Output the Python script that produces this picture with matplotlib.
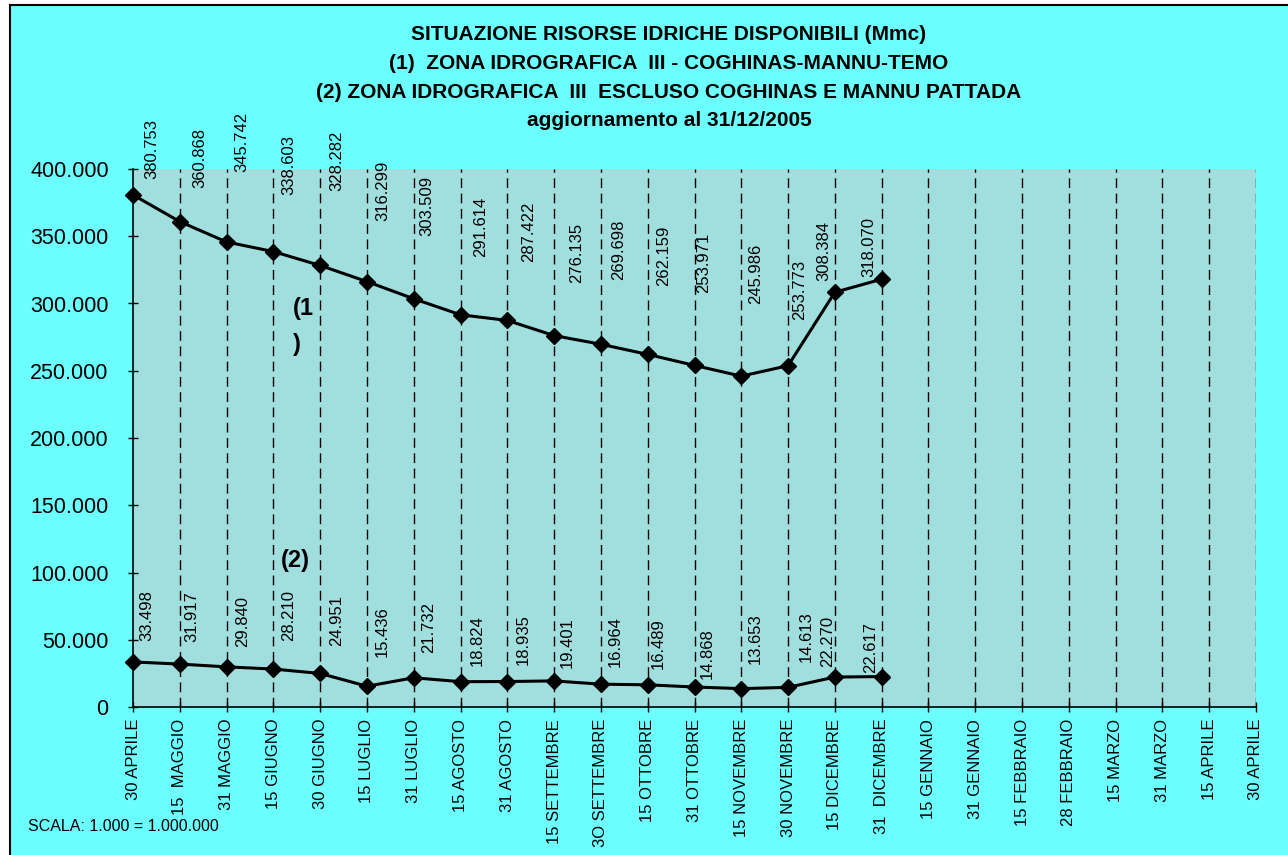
import matplotlib.pyplot as plt
from matplotlib.patches import Rectangle

plt.rcParams['font.family'] = ['Liberation Sans', 'DejaVu Sans']

# date di rilevamento (asse x)
date_labels = ['30 APRILE', '15  MAGGIO', '31 MAGGIO', '15 GIUGNO', '30 GIUGNO',
               '15 LUGLIO', '31 LUGLIO', '15 AGOSTO', '31 AGOSTO', '15 SETTEMBRE',
               '3O SETTEMBRE', '15 OTTOBRE', '31 OTTOBRE', '15 NOVEMBRE',
               '30 NOVEMBRE', '15 DICEMBRE', '31  DICEMBRE', '15 GENNAIO',
               '31 GENNAIO', '15 FEBBRAIO', '28 FEBBRAIO', '15 MARZO', '31 MARZO',
               '15 APRILE', '30 APRILE']

# (1) zona idrografica III - Coghinas-Mannu-Temo
zona1 = [380.753, 360.868, 345.742, 338.603, 328.282, 316.299, 303.509, 291.614,
         287.422, 276.135, 269.698, 262.159, 253.971, 245.986, 253.773, 308.384,
         318.070]
# (2) zona idrografica III escluso Coghinas e Mannu Pattada
zona2 = [33.498, 31.917, 29.840, 28.210, 24.951, 15.436, 21.732, 18.824, 18.935,
         19.401, 16.964, 16.489, 14.868, 13.653, 14.613, 22.270, 22.617]

y_ticks = [0, 50, 100, 150, 200, 250, 300, 350, 400]
y_ticklabels = ['0', '50.000', '100.000', '150.000', '200.000', '250.000',
                '300.000', '350.000', '400.000']

# spostamento etichette (pixel) come nel foglio originale
off1 = [(19, 16), (20, 34), (15, 70), (15, 57), (17, 74), (16, 61), (13, 63),
        (20, 58), (21, 58), (23, 53), (18, 64), (16, 68), (9, 72), (14, 72),
        (12, 46), (-11, 11), (-13, 2)]
off2 = [(14, 21), (12, 22), (16, 20), (15, 28), (16, 27), (15, 29), (15, 25),
        (17, 16), (16, 17), (13, 13), (14, 17), (11, 16), (13, 8), (14, 25),
        (18, 25), (-7, 10), (-11, 4)]

W, H = 1288, 855
fig = plt.figure(figsize=(W / 100, H / 100), dpi=100, facecolor='white')

# sfondo del grafico
fig.patches.append(Rectangle((10 / W, -0.02), 1.1, 1 - 5 / H + 0.02,
                             transform=fig.transFigure, facecolor='#6BFFFF',
                             edgecolor='black', linewidth=1.5, zorder=-5))

ax = fig.add_axes([133 / W, 1 - 707 / H, (1256 - 133) / W, (707 - 169) / H])
ax.set_facecolor('#A1DFDF')

n = len(date_labels)
xs = list(range(n))
ax.set_xlim(0, n - 1)
ax.set_ylim(0, 400)

for x in xs[1:]:
    ax.axvline(x, color='black', lw=1, linestyle=(0, (7, 4)), zorder=1)

for serie, off in ((zona1, off1), (zona2, off2)):
    px = xs[:len(serie)]
    ax.plot(px, serie, color='black', lw=2.2, marker='D', markersize=8,
            zorder=3, clip_on=False)
    for x, v, (dx, dy) in zip(px, serie, off):
        ax.annotate(f'{v:.3f}', (x, v), xytext=(dx, dy), textcoords='offset pixels',
                    rotation=90, ha='center', va='bottom', fontsize=12,
                    zorder=4, annotation_clip=False)

ax.text(3.42, 283, '(1\n)', fontsize=17, fontweight='bold', ha='left',
        va='center', linespacing=1.75)
ax.text(3.15, 109, '(2)', fontsize=17, fontweight='bold', ha='left', va='center')

ax.set_xticks(xs)
ax.set_xticklabels(date_labels, rotation=90, fontsize=12, va='top')
ax.set_yticks(y_ticks)
ax.set_yticklabels(y_ticklabels, fontsize=15.5)
ax.tick_params(axis='both', direction='inout', length=7, width=1, color='black')
ax.tick_params(axis='x', pad=5)
ax.tick_params(axis='y', pad=14)
for s in ('top', 'right'):
    ax.spines[s].set_visible(False)
for s in ('left', 'bottom'):
    ax.spines[s].set_linewidth(1.2)

titoli = ['SITUAZIONE RISORSE IDRICHE DISPONIBILI (Mmc)',
          '(1)  ZONA IDROGRAFICA  III - COGHINAS-MANNU-TEMO',
          '(2) ZONA IDROGRAFICA  III  ESCLUSO COGHINAS E MANNU PATTADA',
          'aggiornamento al 31/12/2005']
for i, t in enumerate(titoli):
    fig.text(669 / W, 1 - (35 + i * 28.5) / H, t, ha='center', va='center',
             fontsize=15, fontweight='bold')

fig.text(28 / W, 1 - 826 / H, 'SCALA: 1.000 = 1.000.000', fontsize=11.5,
         ha='left', va='center')

fig.savefig('out.png', dpi=100, facecolor=fig.get_facecolor())
